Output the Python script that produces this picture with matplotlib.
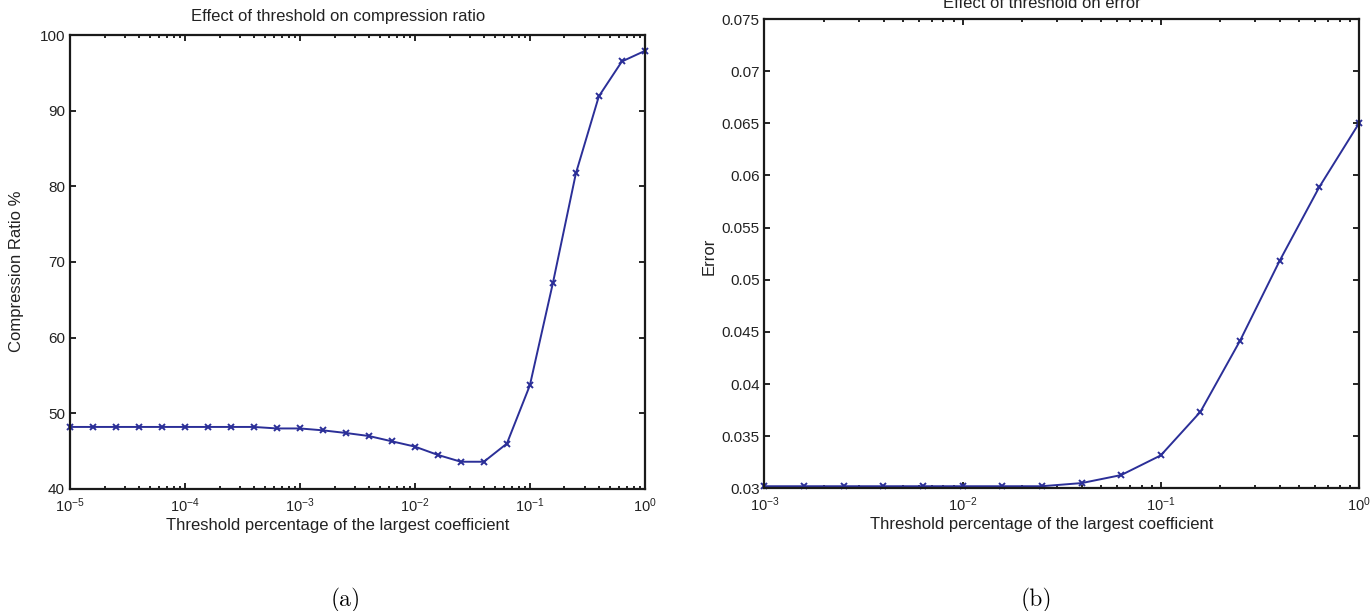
from matplotlib import pyplot as plt
from matplotlib.ticker import FuncFormatter, LogLocator
import numpy as np

# threshold steps: 5 per decade
x_ratio_exp = [-5 + 0.2 * k for k in range(26)]
ratio = [48.2, 48.2, 48.2, 48.2, 48.2, 48.2, 48.2, 48.2, 48.2, 48.0,
         48.0, 47.75, 47.4, 47.0, 46.3, 45.6, 44.5, 43.6, 43.6, 46.0,
         53.7, 67.2, 81.7, 91.9, 96.5, 97.9]

x_err_exp = [-3 + 0.2 * k for k in range(16)]
error = [0.0302, 0.0302, 0.0302, 0.0302, 0.0302, 0.0302, 0.0302, 0.0302,
         0.0305, 0.03127, 0.03316, 0.03734, 0.04416, 0.05183, 0.0589, 0.065]

ratio_ticks = [40, 50, 60, 70, 80, 90, 100]
error_ticks = [0.03, 0.035, 0.04, 0.045, 0.05, 0.055, 0.06, 0.065, 0.07, 0.075]

plt.rcParams['font.family'] = ['Liberation Sans', 'DejaVu Sans']
plt.rcParams['font.size'] = 12

LINE = '#2b2f98'
TXT = '#222222'


def style(ax):
    ax.set_xscale('log')
    ax.tick_params(which='both', direction='in', top=True, right=True,
                   width=1.2, colors='black', labelcolor=TXT)
    ax.tick_params(which='major', length=4)
    ax.tick_params(which='minor', length=2.5)
    ax.tick_params(axis='y', labelsize=11)
    ax.tick_params(axis='x', which='major', pad=5, labelsize=10.5)
    ax.xaxis.set_minor_locator(LogLocator(base=10, subs=np.arange(2, 10), numticks=20))
    for s in ax.spines.values():
        s.set_linewidth(1.6)
        s.set_color('#1a1a1a')


fig = plt.figure(figsize=(13.72, 6.11), dpi=100)

ax1 = fig.add_axes([0.051, 0.1997, 0.419, 0.743])
ax1.plot(10 ** np.array(x_ratio_exp), ratio, color=LINE, lw=1.4,
         marker='x', ms=4.5, mew=1.4, clip_on=False)
style(ax1)
ax1.set_xlim(1e-5, 1)
ax1.set_ylim(40, 100)
ax1.set_yticks(ratio_ticks)
ax1.set_title('Effect of threshold on compression ratio', pad=10, color=TXT,
              fontsize=12, x=0.466)
ax1.set_xlabel('Threshold percentage of the largest coefficient', color=TXT)
ax1.xaxis.set_label_coords(0.466, -0.064)
ax1.set_ylabel('Compression Ratio %', color=TXT)
ax1.yaxis.set_label_coords(-0.080, 0.48)

ax2 = fig.add_axes([0.5572, 0.2008, 0.4333, 0.768])
ax2.plot(10 ** np.array(x_err_exp), error, color=LINE, lw=1.4,
         marker='x', ms=4.5, mew=1.4, clip_on=False)
style(ax2)
ax2.set_xlim(1e-3, 1)
ax2.set_ylim(0.03, 0.075)
ax2.set_yticks(error_ticks)
ax2.yaxis.set_major_formatter(FuncFormatter(lambda v, p: '%g' % round(v, 4)))
ax2.set_title('Effect of threshold on error', pad=8, color=TXT,
              fontsize=12, x=0.466)
ax2.set_xlabel('Threshold percentage of the largest coefficient', color=TXT)
ax2.xaxis.set_label_coords(0.466, -0.061)
ax2.set_ylabel('Error', color=TXT)
ax2.yaxis.set_label_coords(-0.080, 0.4936)

cap = ['Latin Modern Roman', 'Liberation Serif', 'DejaVu Serif']
fig.text(0.2518, 0.008, '(a)', fontsize=17, ha='center', family=cap)
fig.text(0.7551, 0.008, '(b)', fontsize=17, ha='center', family=cap)

fig.savefig('out.png', dpi=100)
